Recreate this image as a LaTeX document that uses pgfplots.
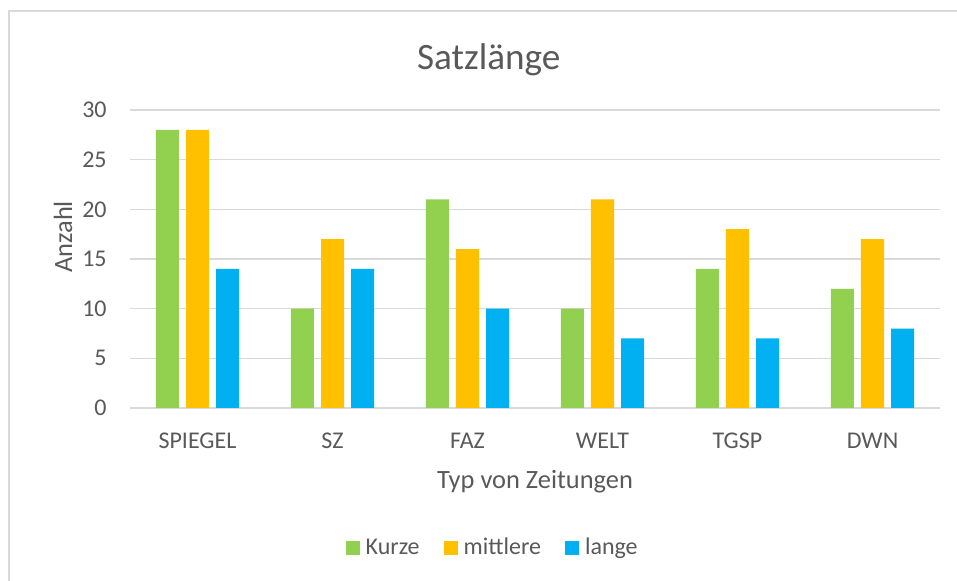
\documentclass[border=0pt]{standalone}
\usepackage{pgfplots}
\pgfplotsset{compat=1.18}
\usepackage{fontspec}
\setmainfont{Carlito}

\definecolor{kurz}{HTML}{92D050}
\definecolor{mittel}{HTML}{FFC000}
\definecolor{lang}{HTML}{00B0F0}
\definecolor{txt}{HTML}{595959}
\definecolor{gridgray}{HTML}{D9D9D9}

\begin{document}
\begin{tikzpicture}
  % frame: 1px = 0.5pt, picture 957x581 px
  \path[use as bounding box] (0,0) rectangle (478.5pt,290.5pt);
  \draw[gridgray, line width=0.7pt] (4.5pt,0pt) -- (4.5pt,285pt) -- (478.5pt,285pt);

  \begin{axis}[
      at={(65pt,86.5pt)}, anchor=south west,
      scale only axis,
      width=405pt, height=149pt,
      ybar, bar width=11.5pt,
      xmin=-0.5, xmax=5.5,
      ymin=0, ymax=30,
      ytick={0,5,...,30},
      xtick=data,
      xticklabels={SPIEGEL,SZ,FAZ,WELT,TGSP,DWN},
      axis line style={draw=none},
      tick style={draw=none},
      ymajorgrids, xmajorgrids=false,
      grid style={gridgray, line width=0.6pt},
      /pgf/number format/assume math mode=true,
      ticklabel style={font=\fontsize{12}{14}\selectfont, text=txt, inner sep=0pt},
      yticklabel shift=11.5pt,
      xticklabel shift=8pt,
      title={Satzlänge},
      title style={at={(axis description cs:0.443,1.095)}, anchor=base,
        font=\fontsize{18.6}{22}\selectfont, text=txt},
      xlabel={Typ von Zeitungen},
      xlabel style={at={(axis description cs:0.5,-0.27)}, anchor=base,
        font=\fontsize{13.2}{15}\selectfont, text=txt},
      ylabel={Anzahl},
      ylabel style={at={(axis description cs:-0.0827,0.574)}, anchor=center, rotate=0,
        font=\fontsize{13.2}{15}\selectfont, text=txt},
      legend columns=3,
      legend style={at={(axis description cs:0.449,-0.470)}, anchor=center,
        draw=none, fill=none, font=\fontsize{12}{14}\selectfont, text=txt,
        /tikz/every odd column/.append style={column sep=1pt},
        /tikz/every even column/.append style={column sep=10pt},
        inner sep=0pt},
      legend image code/.code={\path[#1,draw=none] (0pt,-3.5pt) rectangle (7pt,3.5pt);},
    ]
    \addplot[fill=kurz, draw=none, bar shift=-15pt] coordinates
      {(0,28) (1,10) (2,21) (3,10) (4,14) (5,12)};
    \addplot[fill=mittel, draw=none, bar shift=0pt] coordinates
      {(0,28) (1,17) (2,16) (3,21) (4,18) (5,17)};
    \addplot[fill=lang, draw=none, bar shift=15pt] coordinates
      {(0,14) (1,14) (2,10) (3,7) (4,7) (5,8)};
    \legend{Kurze,mittlere,lange}
  \end{axis}
\end{tikzpicture}
\end{document}
